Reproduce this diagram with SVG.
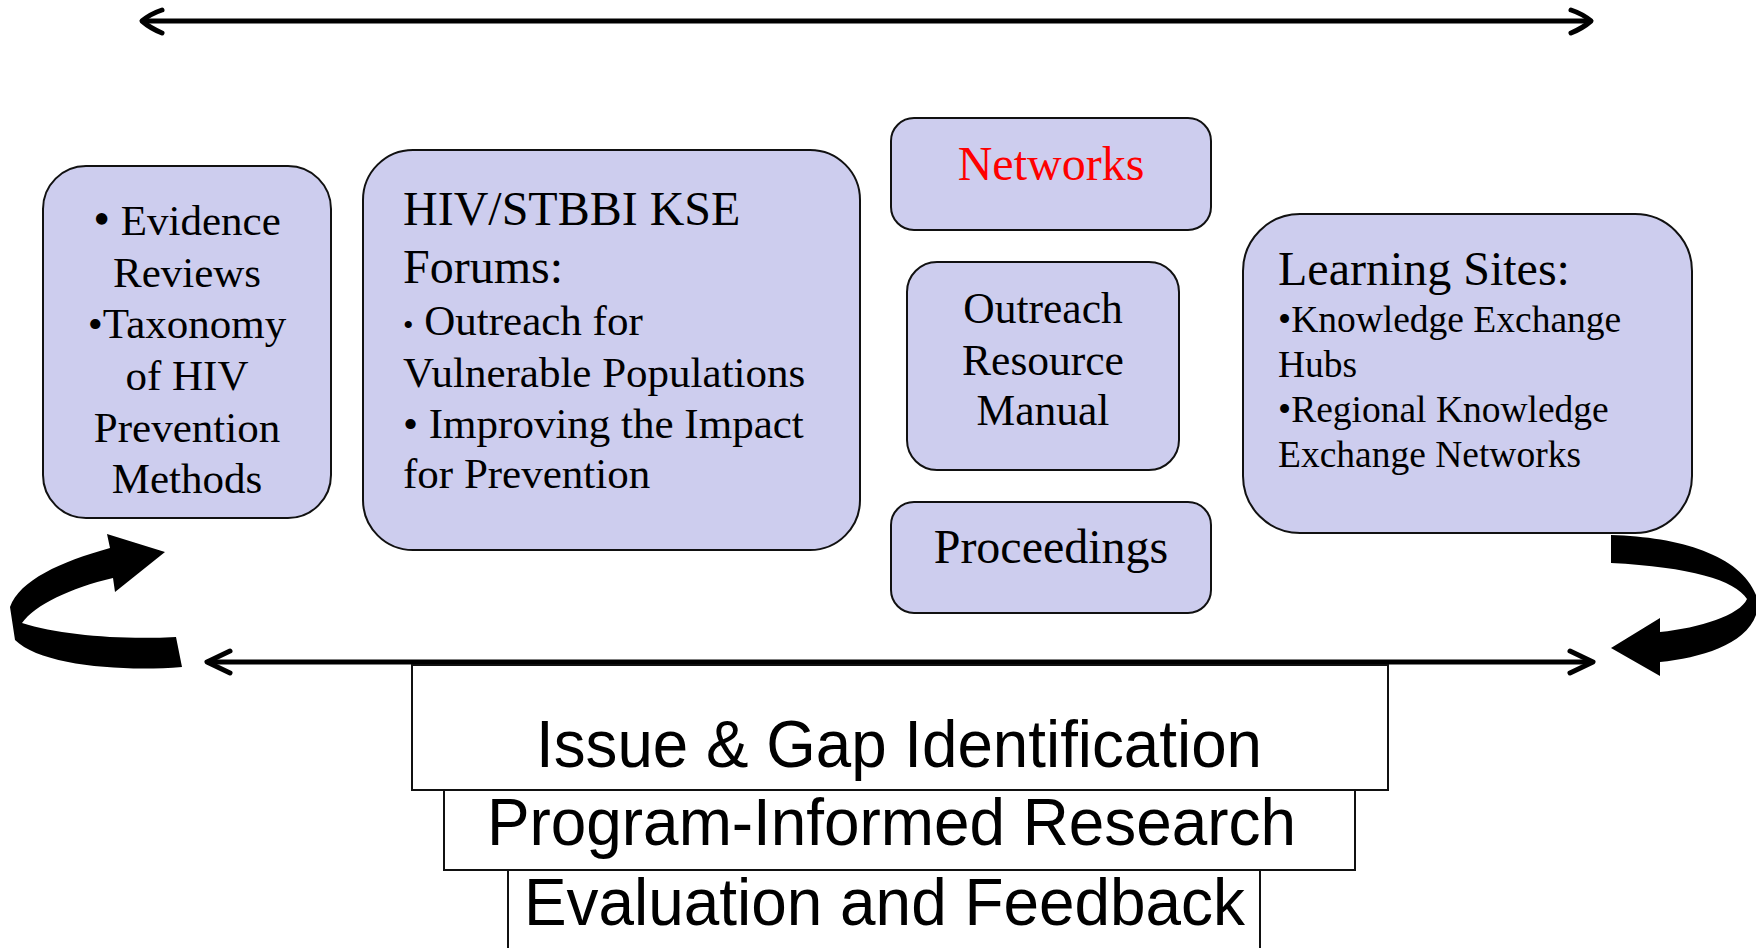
<svg xmlns="http://www.w3.org/2000/svg" width="1762" height="948" viewBox="0 0 1762 948">
<style>
.box{fill:#CDCDEE;stroke:#111;stroke-width:2}
.rect{fill:#fff;stroke:#111;stroke-width:2}
.serif{font-family:"Liberation Serif","Times New Roman",serif;fill:#000}
.mid{text-anchor:middle}
.sans{font-family:"Liberation Sans",Arial,sans-serif;fill:#000;font-size:66px}
.line{stroke:#000;stroke-width:5;fill:none}
.head{stroke:#000;stroke-width:5;fill:none;stroke-linecap:round;stroke-linejoin:round}
.curved{fill:#000}
</style>
<rect width="1762" height="948" fill="#fff"/>
<g id="connectors">
  <line class="line" x1="142" y1="21" x2="1591" y2="21"/>
  <path class="head" d="M162,10 Q150,14 142,21 Q150,28 162,33"/>
  <path class="head" d="M1571,10 Q1583,14 1591,21 Q1583,28 1571,33"/>
  <line class="line" x1="207" y1="662" x2="1591" y2="662"/>
  <path class="head" d="M230,651 L207,662 L230,673"/>
  <path class="head" d="M1570,651 L1593,662 L1570,673"/>
  <path class="curved" d="M182,667 C120,672 40,665 15,640 L10,607 C20,580 60,562 110,548 L107,534 L165,552 L115,592 L113,578 C70,588 35,605 22,623 C60,635 120,640 176,637 Z"/>
  <path class="curved" d="M1611,535 C1680,537 1740,555 1756,595 L1756,615 C1745,645 1700,658 1660,662 L1660,676 L1611,648 L1660,618 L1660,632 C1700,628 1740,615 1747,599 C1735,580 1690,567 1611,563 Z"/>
</g>
<g id="evidence">
  <rect class="box" x="43" y="166" width="288" height="352" rx="43" ry="43"/>
  <text class="serif mid" font-size="43" x="187" y="235"><tspan font-size="48">•</tspan> Evidence</text>
  <text class="serif mid" font-size="43" x="187" y="287">Reviews</text>
  <text class="serif mid" font-size="43" x="187" y="338">•Taxonomy</text>
  <text class="serif mid" font-size="43" x="187" y="390">of HIV</text>
  <text class="serif mid" font-size="43" x="187" y="442">Prevention</text>
  <text class="serif mid" font-size="43" x="187" y="493">Methods</text>
</g>
<g id="forums">
  <rect class="box" x="363" y="150" width="497" height="400" rx="50" ry="50"/>
  <text class="serif" font-size="48" x="403" y="225">HIV/STBBI KSE</text>
  <text class="serif" font-size="48" x="403" y="283">Forums:</text>
  <text class="serif" font-size="43" x="403" y="335"><tspan font-size="30">•</tspan> Outreach for</text>
  <text class="serif" font-size="43" x="403" y="387">Vulnerable Populations</text>
  <text class="serif" font-size="43" x="403" y="438">• Improving the Impact</text>
  <text class="serif" font-size="43" x="403" y="488">for Prevention</text>
</g>
<g id="networks">
  <rect class="box" x="891" y="118" width="320" height="112" rx="23" ry="23"/>
  <text class="serif mid" font-size="48" x="1051" y="180" style="fill:#FF0000">Networks</text>
</g>
<g id="manual">
  <rect class="box" x="907" y="262" width="272" height="208" rx="30" ry="30"/>
  <text class="serif mid" font-size="43.5" x="1043" y="323">Outreach</text>
  <text class="serif mid" font-size="43.5" x="1043" y="375">Resource</text>
  <text class="serif mid" font-size="43.5" x="1043" y="425">Manual</text>
</g>
<g id="proceedings">
  <rect class="box" x="891" y="502" width="320" height="111" rx="23" ry="23"/>
  <text class="serif mid" font-size="48" x="1051" y="563">Proceedings</text>
</g>
<g id="learning">
  <rect class="box" x="1243" y="214" width="449" height="319" rx="57" ry="57"/>
  <text class="serif" font-size="48" x="1278" y="285">Learning Sites:</text>
  <text class="serif" font-size="37.5" x="1278" y="332">•Knowledge Exchange</text>
  <text class="serif" font-size="37.5" x="1278" y="377">Hubs</text>
  <text class="serif" font-size="37.5" x="1278" y="422">•Regional Knowledge</text>
  <text class="serif" font-size="37.5" x="1278" y="467">Exchange Networks</text>
</g>
<g id="issue">
  <rect class="rect" x="412" y="665" width="976" height="125"/>
  <text class="sans" x="536" y="767" textLength="726" lengthAdjust="spacingAndGlyphs">Issue &amp; Gap Identification</text>
</g>
<g id="research">
  <rect class="rect" x="444" y="790" width="911" height="80"/>
  <text class="sans" x="487" y="845" textLength="809" lengthAdjust="spacingAndGlyphs">Program-Informed Research</text>
</g>
<g id="evaluation">
  <rect class="rect" x="508" y="870" width="752" height="90"/>
  <text class="sans" x="524" y="925" textLength="721" lengthAdjust="spacingAndGlyphs">Evaluation and Feedback</text>
</g>
</svg>
